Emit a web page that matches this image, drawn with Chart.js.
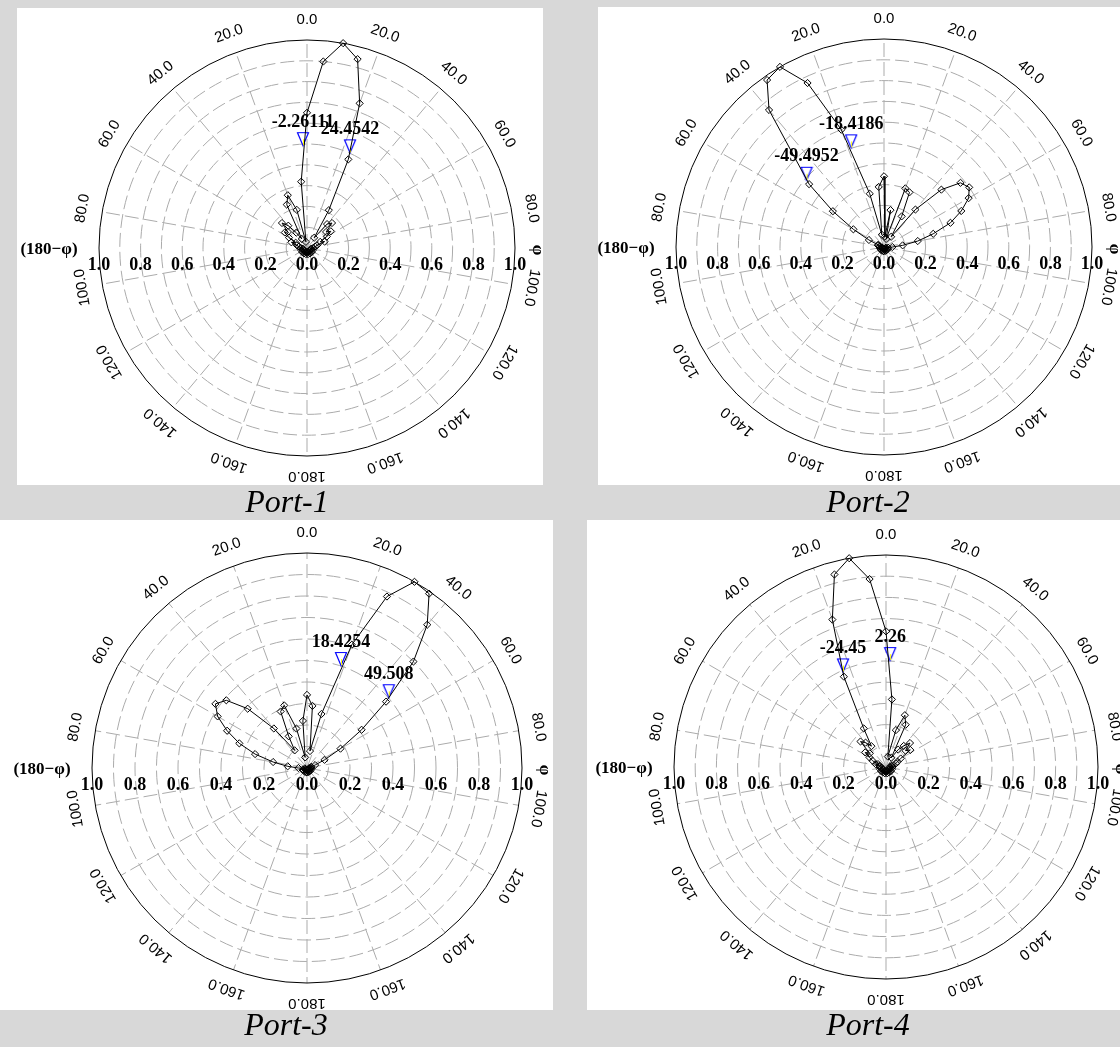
<!DOCTYPE html>
<html>
<head>
<meta charset="utf-8">
<script src="https://cdn.jsdelivr.net/npm/chart.js@4.4.1/dist/chart.umd.min.js"></script>
<style>
  body { margin: 0; width: 1120px; height: 1047px; background: #d8d8d8; position: relative; overflow: hidden; }
  .panel { position: absolute; background: #fff; }
  .panel canvas { position: absolute; left: 0; top: 0; }
  .cap { position: absolute; font: italic 32px "Liberation Serif", "Times New Roman", serif; color: #000;
         transform: translate(-50%, -50%); white-space: nowrap; }
</style>
</head>
<body>
<div class="panel" id="p1"><canvas id="c1"></canvas></div>
<div class="panel" id="p2"><canvas id="c2"></canvas></div>
<div class="panel" id="p3"><canvas id="c3"></canvas></div>
<div class="panel" id="p4"><canvas id="c4"></canvas></div>
<div class="cap" style="left:287px;top:501px">Port-1</div>
<div class="cap" style="left:868px;top:501px">Port-2</div>
<div class="cap" style="left:286px;top:1024px">Port-3</div>
<div class="cap" style="left:868px;top:1024px">Port-4</div>
<script>
// tick labels
const angleTicks = [0, 20, 40, 60, 80, 100, 120, 140, 160, 180, -20, -40, -60, -80, -100, -120, -140, -160];
const radialTicks = [-1, -0.8, -0.6, -0.4, -0.2, 0, 0.2, 0.4, 0.6, 0.8, 1];
const rings = [0.1, 0.2, 0.3, 0.4, 0.5, 0.6, 0.7, 0.8, 0.9];

// Port-1 (theta in degrees, r normalised)
const port1Theta = [-180, -170, -160, -150, -140, -130, -120, -110, -100, -90,
  -80, -75, -70, -65, -60, -55, -50, -45, -40, -35, -30, -25, -20, -15, -10, -5,
  0, 5, 10, 15, 20, 25, 30, 35, 40, 45, 50, 55, 60, 65, 70, 75, 80,
  90, 100, 110, 120, 130, 140, 150, 160, 170, 180];
const port1R = [0.02, 0.03, 0.02, 0.03, 0.02, 0.03, 0.02, 0.03, 0.02, 0.03,
  0.04, 0.05, 0.08, 0.06, 0.10, 0.13, 0.12, 0.17, 0.14, 0.09, 0.05, 0.23, 0.27, 0.19, 0.03, 0.32,
  0.65, 0.90, 1.00, 0.94, 0.74, 0.47, 0.21, 0.06, 0.15, 0.17, 0.12, 0.14, 0.11, 0.07, 0.09, 0.05, 0.04,
  0.03, 0.02, 0.03, 0.02, 0.03, 0.02, 0.03, 0.02, 0.03, 0.02];
const port1MarkTheta = [-2.26111, 24.4542];
const port1MarkR = [0.49, 0.50];
const port1MarkText = ['-2.26111', '24.4542'];

// Port-2
const port2Theta = [-180, -170, -160, -150, -140, -130, -120, -110, -100, -90,
  -80, -75, -70, -65, -60, -55, -50, -40, -35, -30, -25, -20, -15, -10, -5,
  0, 5, 10, 15, 20, 25, 30, 35, 40, 45, 50, 55, 60, 65, 70, 75, 80, 85, 90,
  100, 110, 120, 130, 140, 150, 160, 170, 180];
const port2R = [0.01, 0.02, 0.01, 0.02, 0.01, 0.02, 0.01, 0.02, 0.01, 0.02,
  0.02, 0.03, 0.03, 0.08, 0.17, 0.30, 0.47, 0.86, 0.98, 1.00, 0.87, 0.60, 0.265, 0.06, 0.29,
  0.34, 0.05, 0.18, 0.04, 0.30, 0.29, 0.17, 0.06, 0.235, 0.39, 0.48, 0.50, 0.47, 0.41, 0.34, 0.245, 0.165, 0.09, 0.04,
  0.02, 0.01, 0.02, 0.01, 0.02, 0.01, 0.02, 0.01, 0.02];
const port2MarkTheta = [-18.4186, -49.4952];
const port2MarkR = [0.50, 0.49];
const port2MarkText = ['-18.4186', '-49.4952'];

// Port-3
const port3Theta = [-180, -170, -160, -150, -140, -130, -120, -110, -100,
  -90, -85, -80, -75, -70, -65, -60, -55, -50, -45, -40, -35, -30, -25, -20, -15, -10, -5,
  0, 5, 10, 15, 20, 25, 30, 35, 40, 45, 50, 55, 60, 65, 70, 75, 80,
  90, 100, 110, 120, 130, 140, 150, 160, 170, 180];
const port3R = [0.01, 0.02, 0.01, 0.02, 0.01, 0.02, 0.01, 0.02, 0.01,
  0.04, 0.09, 0.16, 0.25, 0.335, 0.41, 0.48, 0.52, 0.49, 0.39, 0.24, 0.10, 0.17, 0.29, 0.31, 0.19, 0.05, 0.22,
  0.34, 0.29, 0.08, 0.26, 0.61, 0.88, 1.00, 0.99, 0.87, 0.70, 0.48, 0.31, 0.18, 0.09, 0.04, 0.02, 0.02,
  0.01, 0.02, 0.01, 0.02, 0.01, 0.02, 0.01, 0.02, 0.01, 0.02];
const port3MarkTheta = [18.4254, 49.508];
const port3MarkR = [0.50, 0.50];
const port3MarkText = ['18.4254', '49.508'];

// Port-4
const port4Theta = [-180, -170, -160, -150, -140, -130, -120, -110, -100, -90,
  -80, -75, -70, -65, -60, -55, -50, -45, -40, -35, -30, -25, -20, -15, -10, -5,
  0, 5, 10, 15, 20, 25, 30, 35, 40, 45, 50, 55, 60, 65, 70, 75, 80,
  90, 100, 110, 120, 130, 140, 150, 160, 170, 180];
const port4R = [0.02, 0.03, 0.02, 0.03, 0.02, 0.03, 0.02, 0.03, 0.02, 0.03,
  0.03, 0.05, 0.04, 0.07, 0.09, 0.12, 0.10, 0.17, 0.15, 0.12, 0.21, 0.47, 0.74, 0.94, 1.00, 0.89,
  0.64, 0.32, 0.05, 0.18, 0.26, 0.22, 0.05, 0.10, 0.13, 0.16, 0.12, 0.14, 0.08, 0.06, 0.05, 0.03, 0.02,
  0.03, 0.02, 0.03, 0.02, 0.03, 0.02, 0.03, 0.02, 0.03, 0.02];
const port4MarkTheta = [-24.45, 2.26];
const port4MarkR = [0.49, 0.50];
const port4MarkText = ['-24.45', '2.26'];

const panels = [
  { id: 'c1', box: 'p1', left: 17, top: 8, w: 526, h: 477, cx: 307, cy: 248, R: 208,
    theta: port1Theta, r: port1R, mTheta: port1MarkTheta, mR: port1MarkR, mText: port1MarkText },
  { id: 'c2', box: 'p2', left: 598, top: 7, w: 522, h: 478, cx: 884, cy: 247, R: 208,
    theta: port2Theta, r: port2R, mTheta: port2MarkTheta, mR: port2MarkR, mText: port2MarkText },
  { id: 'c3', box: 'p3', left: 0, top: 520, w: 553, h: 490, cx: 307, cy: 768, R: 215,
    theta: port3Theta, r: port3R, mTheta: port3MarkTheta, mR: port3MarkR, mText: port3MarkText },
  { id: 'c4', box: 'p4', left: 587, top: 520, w: 533, h: 490, cx: 886, cy: 767, R: 212,
    theta: port4Theta, r: port4R, mTheta: port4MarkTheta, mR: port4MarkR, mText: port4MarkText }
];

const deg = Math.PI / 180;
function toXY(theta, r) {
  return theta.map((t, i) => ({ x: r[i] * Math.sin(t * deg), y: r[i] * Math.cos(t * deg) }));
}

// inverted blue triangle whose tip sits at the image centre
function makeTriangle() {
  const c = document.createElement('canvas');
  c.width = 14;
  c.height = 32;
  const g = c.getContext('2d');
  g.strokeStyle = '#0000ff';
  g.lineWidth = 1.2;
  g.beginPath();
  g.moveTo(1.5, 2.5);
  g.lineTo(12.5, 2.5);
  g.lineTo(7, 15.5);
  g.closePath();
  g.stroke();
  g.strokeStyle = '#ffff00';
  g.lineWidth = 1;
  g.beginPath();
  g.moveTo(7.5, 15);
  g.lineTo(7.5, 9);
  g.stroke();
  return c;
}
const triangle = makeTriangle();

const polarGrid = {
  id: 'polarGrid',
  beforeDatasetsDraw(chart) {
    const { ctx, scales: { x, y } } = chart;
    const cx = x.getPixelForValue(0);
    const cy = y.getPixelForValue(0);
    const rx = v => x.getPixelForValue(v) - cx;
    const ry = v => cy - y.getPixelForValue(v);
    ctx.save();
    ctx.lineWidth = 1;
    ctx.strokeStyle = '#ababab';
    ctx.setLineDash([14, 5]);
    for (const r of rings) {
      ctx.beginPath();
      ctx.ellipse(cx, cy, rx(r), ry(r), 0, 0, 2 * Math.PI);
      ctx.stroke();
    }
    for (const a of angleTicks) {
      ctx.beginPath();
      ctx.moveTo(cx, cy);
      ctx.lineTo(cx + rx(1) * Math.sin(a * deg), cy - ry(1) * Math.cos(a * deg));
      ctx.stroke();
    }
    ctx.setLineDash([]);
    ctx.strokeStyle = '#000';
    ctx.beginPath();
    ctx.ellipse(cx, cy, rx(1), ry(1), 0, 0, 2 * Math.PI);
    ctx.stroke();

    // angle labels around the rim
    ctx.fillStyle = '#000';
    ctx.font = '15px "Liberation Sans", Arial, sans-serif';
    ctx.textAlign = 'center';
    ctx.textBaseline = 'middle';
    for (const a of angleTicks) {
      const lx = cx + (rx(1) + 20) * Math.sin(a * deg);
      const ly = cy - (ry(1) + 20) * Math.cos(a * deg);
      ctx.save();
      ctx.translate(lx, ly);
      ctx.rotate(a * deg);
      ctx.fillText(Math.abs(a).toFixed(1), 0, 0);
      ctx.restore();
    }

    // radial labels along the horizontal diameter
    ctx.font = 'bold 18px "Liberation Serif", "Times New Roman", serif';
    for (const v of radialTicks) {
      ctx.fillText(Math.abs(v).toFixed(1), x.getPixelForValue(v), cy + 17);
    }
    ctx.font = 'bold 17px "Liberation Serif", "Times New Roman", serif';
    ctx.fillText('(180\u2212\u03c6)', cx - rx(1) - 50, cy + 2);
    ctx.save();
    ctx.translate(cx + rx(1) + 22, cy + 2);
    ctx.rotate(Math.PI / 2);
    ctx.fillText('\u03c6', 0, 0);
    ctx.restore();
    ctx.restore();
  },
  afterDatasetsDraw(chart) {
    const { ctx } = chart;
    const meta = chart.getDatasetMeta(1);
    const texts = chart.options.plugins.polarGrid.texts;
    ctx.save();
    ctx.fillStyle = '#000';
    ctx.font = 'bold 18px "Liberation Serif", "Times New Roman", serif';
    ctx.textAlign = 'center';
    ctx.textBaseline = 'middle';
    meta.data.forEach((pt, i) => {
      ctx.fillText(texts[i], pt.x, pt.y - 24);
    });
    ctx.restore();
  }
};

for (const p of panels) {
  const box = document.getElementById(p.box);
  box.style.left = p.left + 'px';
  box.style.top = p.top + 'px';
  box.style.width = p.w + 'px';
  box.style.height = p.h + 'px';
  const canvas = document.getElementById(p.id);
  canvas.width = p.w;
  canvas.height = p.h;

  new Chart(canvas.getContext('2d'), {
    type: 'scatter',
    data: {
      datasets: [{
        data: toXY(p.theta, p.r),
        showLine: true,
        borderColor: '#000',
        borderWidth: 1,
        pointStyle: 'rectRot',
        pointRadius: 3.6,
        pointBorderColor: '#000',
        pointBackgroundColor: 'rgba(0,0,0,0)',
        pointBorderWidth: 1,
        clip: false
      }, {
        data: toXY(p.mTheta, p.mR),
        showLine: false,
        pointStyle: triangle,
        pointRadius: 7,
        clip: false
      }]
    },
    options: {
      responsive: false,
      animation: false,
      events: [],
      layout: {
        padding: {
          left: p.cx - p.R - p.left,
          right: p.left + p.w - (p.cx + p.R),
          top: p.cy - p.R - p.top,
          bottom: p.top + p.h - (p.cy + p.R)
        }
      },
      scales: {
        x: { type: 'linear', min: -1, max: 1, display: false },
        y: { type: 'linear', min: -1, max: 1, display: false }
      },
      plugins: {
        legend: { display: false },
        tooltip: { enabled: false },
        polarGrid: { texts: p.mText }
      }
    },
    plugins: [polarGrid]
  });
}
</script>
</body>
</html>
